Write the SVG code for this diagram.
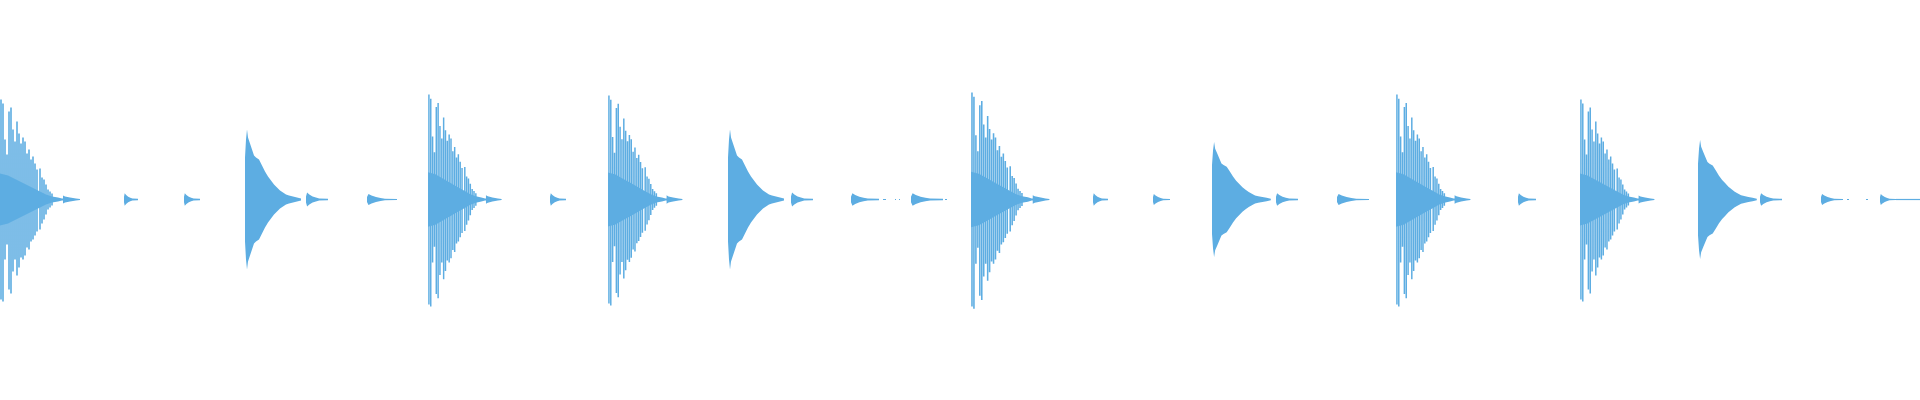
<svg xmlns="http://www.w3.org/2000/svg" width="1920" height="400" viewBox="0 0 1920 400">
<style>
.f{fill:#5dade2;stroke:none}
.s{stroke:#5dade2;stroke-width:1.6;fill:none}
.t{stroke:#5dade2;stroke-width:1.2;fill:none}
</style>
<defs>
<g id="big">
<path class="s" d="M1 -100V100M3 -96V102M5 -60V60M7 -45V45M9 -88V90M11 -92V94M13 -70V72M15 -58V60M17 -78V76M19 -66V68M21 -56V58M23 -62V60M25 -58V56M27 -46V48M29 -50V50M31 -40V42M33 -43V40M35 -36V36M37 -30V32M40 -31V30M42 -22V24M44 -20V20M46 -15V15M48 -10V10M50 -8V8M52 -6V6"/>
<path class="f" d="M0 -26L8 -24L16 -20L24 -16L32 -12L40 -8L46 -5L52 -3L58 -2L62 -1L63 -1L63 -4L65 -3L70 -2L76 -1L80 -0.5L80 0.5L76 1L70 2L65 3L63 4L63 1L62 1L58 2L52 3L46 5L40 8L32 12L24 16L16 20L8 24L0 26Z"/>
</g>
<g id="smooth">
<path class="f" d="M0 -42L1 -60L2 -70L3 -62L5 -56L7 -50L9 -44L11 -42L14 -40L17 -34L20 -28L23 -23L26 -19L29 -15L32 -12L35 -9L38 -7L41 -5L44 -4L48 -3L52 -2L56 -1L56 1L52 2L48 3L44 4L41 5L38 7L35 9L32 12L29 15L26 19L23 23L20 28L17 34L14 40L11 42L9 44L7 50L5 56L3 62L2 70L1 60L0 42Z"/>
</g>
<g id="blip">
<path class="f" d="M0 -3L1 -7L3 -5L6 -3L9 -2L12 -1L20 -0.7L20 0.7L12 1L9 2L6 3L3 5L1 7L0 3Z"/>
</g>
</defs>
<g id="wave" transform="translate(0,199.5)">
<use href="#big" transform="translate(0,0)"/>
<use href="#blip" transform="translate(124,0) scale(0.7,0.9)"/>
<use href="#blip" transform="translate(184,0) scale(0.8,0.9)"/>
<use href="#smooth" transform="translate(245,0) scale(1,1)"/>
<use href="#blip" transform="translate(306,0) scale(1.1,1)"/>
<use href="#blip" transform="translate(367,0) scale(1.5,0.8)"/>
<use href="#big" transform="translate(428,0) scale(0.92,1.05)"/>
<use href="#blip" transform="translate(550,0) scale(0.8,0.9)"/>
<use href="#big" transform="translate(608,0) scale(0.93,1.04)"/>
<use href="#smooth" transform="translate(728,0) scale(1,1)"/>
<use href="#blip" transform="translate(791,0) scale(1.1,1)"/>
<use href="#blip" transform="translate(851,0) scale(1.4,0.9)"/>
<path class="t" d="M883 0h3M895 0h1M899 0h1M945 0h2"/>
<use href="#blip" transform="translate(911,0) scale(1.6,0.9)"/>
<use href="#big" transform="translate(971,0) scale(0.98,1.07)"/>
<use href="#blip" transform="translate(1093,0) scale(0.75,0.9)"/>
<use href="#blip" transform="translate(1153,0) scale(0.85,0.8)"/>
<use href="#smooth" transform="translate(1212,0) scale(1.05,0.82)"/>
<use href="#blip" transform="translate(1276,0) scale(1.1,0.9)"/>
<use href="#blip" transform="translate(1337,0) scale(1.6,0.8)"/>
<use href="#big" transform="translate(1396,0) scale(0.93,1.05)"/>
<use href="#blip" transform="translate(1518,0) scale(0.9,0.9)"/>
<use href="#big" transform="translate(1580,0) scale(0.93,1)"/>
<use href="#smooth" transform="translate(1698,0) scale(1.05,0.85)"/>
<use href="#blip" transform="translate(1760,0) scale(1.1,0.9)"/>
<use href="#blip" transform="translate(1821,0) scale(1.1,0.8)"/>
<path class="t" d="M1847 0h2M1866 0h2"/>
<use href="#blip" transform="translate(1880,0) scale(0.8,0.8)"/>
<path class="t" d="M1896 0H1920"/>
</g>
</svg>
